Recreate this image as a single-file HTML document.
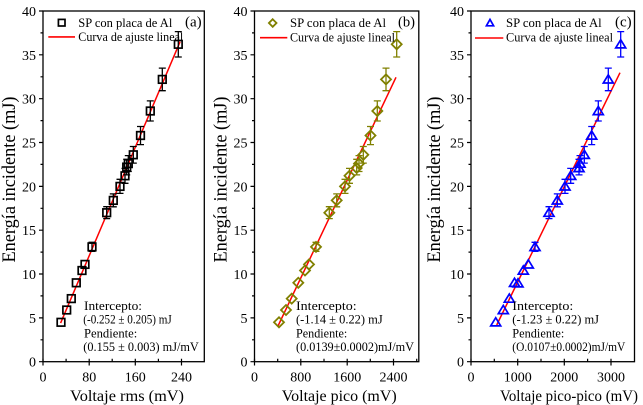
<!DOCTYPE html>
<html>
<head>
<meta charset="utf-8">
<style>
html,body{margin:0;padding:0;background:#fff;font-family:"Liberation Serif",serif;}
svg{display:block;font-family:"Liberation Serif",serif;}
svg text{font-family:"Liberation Serif",serif !important;fill:#000;}
.tk{font-size:14px;}
.ttl{font-size:16px;}
.yt{font-size:19px;}
.lg{font-size:12.5px;}
.an{font-size:12.8px;fill:#222;}
.pl{font-size:15px;}
</style>
</head>
<body>
<svg width="643" height="405" viewBox="0 0 643 405" xmlns="http://www.w3.org/2000/svg" font-family="Liberation Serif, serif">
<defs>
 <rect id="sq" x="-3.8" y="-3.8" width="7.6" height="7.6" fill="none" stroke="#000" stroke-width="1.7"/>
 <rect id="sqs" x="-3.3" y="-3.3" width="6.6" height="6.6" fill="none" stroke="#000" stroke-width="1.7"/>
 <path id="dm" d="M0 -5L5 0L0 5L-5 0Z" fill="none" stroke="#808000" stroke-width="1.8"/>
 <path id="dms" d="M0 -3.8L3.8 0L0 3.8L-3.8 0Z" fill="none" stroke="#808000" stroke-width="1.8"/>
 <path id="tr" d="M0 -4.6L5 3.6L-5 3.6Z" fill="none" stroke="#0000ff" stroke-width="1.7"/>
 <path id="trs" d="M0 -3.6L3.6 2.8L-3.6 2.8Z" fill="none" stroke="#0000ff" stroke-width="1.7"/>
</defs>

<!-- ================= PANEL A ================= -->
<rect x="43" y="11" width="161.3" height="350.7" fill="none" stroke="#000" stroke-width="1.3"/>
<path d="M39 361.7H43M39 317.9H43M39 274H43M39 230.2H43M39 186.4H43M39 142.5H43M39 98.7H43M39 54.8H43M39 11H43
M40.5 339.8H43M40.5 295.9H43M40.5 252.1H43M40.5 208.3H43M40.5 164.4H43M40.5 120.6H43M40.5 76.8H43M40.5 32.9H43
M43 358.7V365.5M89.2 358.7V365.5M135.3 358.7V365.5M181.5 358.7V365.5
M66.1 358.7V361.7M112.2 358.7V361.7M158.4 358.7V361.7" stroke="#000" stroke-width="1.2" fill="none"/>
<g class="tk" text-anchor="end" font-family="Liberation Serif, serif">
 <text x="36" y="366.7">0</text><text x="36" y="322.9">5</text><text x="36" y="279">10</text>
 <text x="36" y="235.2">15</text><text x="36" y="191.4">20</text><text x="36" y="147.5">25</text>
 <text x="36" y="103.7">30</text><text x="36" y="59.8">35</text><text x="36" y="16">40</text>
</g>
<g class="tk" text-anchor="middle" font-family="Liberation Serif, serif">
 <text x="43" y="381.5">0</text><text x="89.2" y="381.5">80</text><text x="135.3" y="381.5">160</text><text x="181.5" y="381.5">240</text>
</g>
<text class="ttl" font-family="Liberation Serif, serif" x="70" y="401" textLength="114" lengthAdjust="spacingAndGlyphs">Voltaje rms (mV)</text>
<text class="yt" font-family="Liberation Serif, serif" transform="translate(15,179.5) rotate(-90)" text-anchor="middle" textLength="166" lengthAdjust="spacingAndGlyphs">Energía incidente (mJ)</text>

<line x1="60.6" y1="323.1" x2="180.1" y2="41.7" stroke="#ff0000" stroke-width="1.5"/>
<path d="M92 242.3V251.4M88.5 242.3H95.5M88.5 251.4H95.5
M106.7 206.7V218.6M103.2 206.7H110.2M103.2 218.6H110.2
M113.3 193.9V206.8M109.8 193.9H116.8M109.8 206.8H116.8
M120 179.3V193.4M116.5 179.3H123.5M116.5 193.4H123.5
M125 168.4V183.3M121.5 168.4H128.5M121.5 183.3H128.5
M126.7 159.3V174.9M123.2 159.3H130.2M123.2 174.9H130.2
M128.3 155.6V171.5M124.8 155.6H131.8M124.8 171.5H131.8
M133.3 146.5V163.1M129.8 146.5H136.8M129.8 163.1H136.8
M140.5 126.5V144.6M137 126.5H144M137 144.6H144
M150.3 100.9V121M146.8 100.9H153.8M146.8 121H153.8
M162.3 68.1V90.7M158.8 68.1H165.8M158.8 90.7H165.8
M178.3 31.6V57M174.8 31.6H181.8M174.8 57H181.8" stroke="#000" stroke-width="1.3" fill="none"/>
<g>
 <use href="#sq" x="61" y="322.3"/><use href="#sq" x="66.7" y="310"/><use href="#sq" x="71.3" y="298.6"/>
 <use href="#sq" x="76.3" y="282.8"/><use href="#sq" x="82" y="270.5"/><use href="#sq" x="85" y="264.4"/>
 <use href="#sq" x="92" y="246.9"/><use href="#sq" x="106.7" y="212.7"/><use href="#sq" x="113.3" y="200.4"/>
 <use href="#sq" x="120" y="186.4"/><use href="#sq" x="125" y="175.8"/><use href="#sq" x="126.7" y="167.1"/>
 <use href="#sq" x="128.3" y="163.6"/><use href="#sq" x="133.3" y="154.8"/><use href="#sq" x="140.5" y="135.5"/>
 <use href="#sq" x="150.3" y="111"/><use href="#sq" x="162.3" y="79.4"/><use href="#sq" x="178.3" y="44.3"/>
</g>
<use href="#sqs" x="61.7" y="22.7"/>
<text class="lg" font-family="Liberation Serif, serif" x="78.3" y="27" textLength="94" lengthAdjust="spacingAndGlyphs">SP con placa de Al</text>
<line x1="48.3" y1="36.9" x2="75" y2="36.9" stroke="#ff0000" stroke-width="1.6"/>
<text class="lg" font-family="Liberation Serif, serif" x="78.3" y="41" textLength="105" lengthAdjust="spacingAndGlyphs">Curva de ajuste lineal</text>
<text class="pl" font-family="Liberation Serif, serif" x="185" y="26.5" textLength="16.7" lengthAdjust="spacingAndGlyphs">(a)</text>
<g class="an" font-family="Liberation Serif, serif">
 <text x="84" y="310" textLength="58" lengthAdjust="spacingAndGlyphs">Intercepto:</text>
 <text x="83.3" y="323.5" textLength="88.4" lengthAdjust="spacingAndGlyphs">(-0.252 ± 0.205) mJ</text>
 <text x="84" y="337.5" textLength="53.3" lengthAdjust="spacingAndGlyphs">Pendiente:</text>
 <text x="83.3" y="351" textLength="115.5" lengthAdjust="spacingAndGlyphs">(0.155 ± 0.003) mJ/mV</text>
</g>

<!-- ================= PANEL B ================= -->
<rect x="254.5" y="11" width="164.3" height="350.7" fill="none" stroke="#000" stroke-width="1.3"/>
<path d="M250.5 361.7H254.5M250.5 317.9H254.5M250.5 274H254.5M250.5 230.2H254.5M250.5 186.4H254.5M250.5 142.5H254.5M250.5 98.7H254.5M250.5 54.8H254.5M250.5 11H254.5
M252 339.8H254.5M252 295.9H254.5M252 252.1H254.5M252 208.3H254.5M252 164.4H254.5M252 120.6H254.5M252 76.8H254.5M252 32.9H254.5
M254.5 358.7V365.5M300.8 358.7V365.5M347.2 358.7V365.5M393.5 358.7V365.5
M277.7 358.7V361.7M324 358.7V361.7M370.3 358.7V361.7M416.7 358.7V361.7" stroke="#000" stroke-width="1.2" fill="none"/>
<g class="tk" text-anchor="end" font-family="Liberation Serif, serif">
 <text x="247.5" y="366.7">0</text><text x="247.5" y="322.9">5</text><text x="247.5" y="279">10</text>
 <text x="247.5" y="235.2">15</text><text x="247.5" y="191.4">20</text><text x="247.5" y="147.5">25</text>
 <text x="247.5" y="103.7">30</text><text x="247.5" y="59.8">35</text><text x="247.5" y="16">40</text>
</g>
<g class="tk" text-anchor="middle" font-family="Liberation Serif, serif">
 <text x="254.5" y="381.5">0</text><text x="300.8" y="381.5">800</text><text x="347.2" y="381.5">1600</text><text x="393.5" y="381.5">2400</text>
</g>
<text class="ttl" font-family="Liberation Serif, serif" x="281.7" y="401" textLength="115" lengthAdjust="spacingAndGlyphs">Voltaje pico (mV)</text>
<text class="yt" font-family="Liberation Serif, serif" transform="translate(226.6,179.5) rotate(-90)" text-anchor="middle" textLength="166" lengthAdjust="spacingAndGlyphs">Energía incidente (mJ)</text>

<line x1="278" y1="326" x2="396" y2="77.3" stroke="#ff0000" stroke-width="1.5"/>
<path d="M316 242.3V251.4M312.5 242.3H319.5M312.5 251.4H319.5
M329.3 206.7V218.6M325.8 206.7H332.8M325.8 218.6H332.8
M336.7 193.9V206.8M333.2 193.9H340.2M333.2 206.8H340.2
M345 179.3V193.4M341.5 179.3H348.5M341.5 193.4H348.5
M349.5 168.4V183.3M346 168.4H353M346 183.3H353
M356.7 159.3V174.9M353.2 159.3H360.2M353.2 174.9H360.2
M359 155.6V171.5M355.5 155.6H362.5M355.5 171.5H362.5
M363.3 146.5V163.1M359.8 146.5H366.8M359.8 163.1H366.8
M370.5 126.5V144.6M367 126.5H374M367 144.6H374
M377.3 100.9V121M373.8 100.9H380.8M373.8 121H380.8
M386 68.1V90.7M382.5 68.1H389.5M382.5 90.7H389.5
M396.7 31.6V57M393.2 31.6H400.2M393.2 57H400.2" stroke="#808000" stroke-width="1.3" fill="none"/>
<g>
 <use href="#dm" x="279" y="322.3"/><use href="#dm" x="286" y="310"/><use href="#dm" x="291.7" y="298.6"/>
 <use href="#dm" x="298.3" y="282.8"/><use href="#dm" x="305" y="270.5"/><use href="#dm" x="309" y="264.4"/>
 <use href="#dm" x="316" y="246.9"/><use href="#dm" x="329.3" y="212.7"/><use href="#dm" x="336.7" y="200.4"/>
 <use href="#dm" x="345" y="186.4"/><use href="#dm" x="349.5" y="175.8"/><use href="#dm" x="356.7" y="168"/>
 <use href="#dm" x="359" y="163.6"/><use href="#dm" x="363.3" y="154.8"/><use href="#dm" x="370.5" y="135.5"/>
 <use href="#dm" x="377.3" y="111"/><use href="#dm" x="386" y="79.4"/><use href="#dm" x="396.7" y="44.3"/>
</g>
<use href="#dms" x="272.7" y="23"/>
<text class="lg" font-family="Liberation Serif, serif" x="290" y="27" textLength="96" lengthAdjust="spacingAndGlyphs">SP con placa de Al</text>
<line x1="260" y1="37.7" x2="287.3" y2="37.7" stroke="#ff0000" stroke-width="1.6"/>
<text class="lg" font-family="Liberation Serif, serif" x="290" y="41.5" textLength="105" lengthAdjust="spacingAndGlyphs">Curva de ajuste lineal</text>
<text class="pl" font-family="Liberation Serif, serif" x="398" y="26.5" textLength="17" lengthAdjust="spacingAndGlyphs">(b)</text>
<g class="an" font-family="Liberation Serif, serif">
 <text x="296" y="310" textLength="60.7" lengthAdjust="spacingAndGlyphs">Intercepto:</text>
 <text x="296" y="323.5" textLength="86.7" lengthAdjust="spacingAndGlyphs">(-1.14 ± 0.22) mJ</text>
 <text x="296" y="337.5" textLength="51.3" lengthAdjust="spacingAndGlyphs">Pendiente:</text>
 <text x="296" y="351" textLength="118" lengthAdjust="spacingAndGlyphs">(0.0139±0.0002)mJ/mV</text>
</g>

<!-- ================= PANEL C ================= -->
<rect x="471" y="11" width="163.5" height="350.7" fill="none" stroke="#000" stroke-width="1.3"/>
<path d="M467 361.7H471M467 317.9H471M467 274H471M467 230.2H471M467 186.4H471M467 142.5H471M467 98.7H471M467 54.8H471M467 11H471
M468.5 339.8H471M468.5 295.9H471M468.5 252.1H471M468.5 208.3H471M468.5 164.4H471M468.5 120.6H471M468.5 76.8H471M468.5 32.9H471
M471 358.7V365.5M517.7 358.7V365.5M564.3 358.7V365.5M611 358.7V365.5
M494.3 358.7V361.7M541 358.7V361.7M587.6 358.7V361.7" stroke="#000" stroke-width="1.2" fill="none"/>
<g class="tk" text-anchor="end" font-family="Liberation Serif, serif">
 <text x="464" y="366.7">0</text><text x="464" y="322.9">5</text><text x="464" y="279">10</text>
 <text x="464" y="235.2">15</text><text x="464" y="191.4">20</text><text x="464" y="147.5">25</text>
 <text x="464" y="103.7">30</text><text x="464" y="59.8">35</text><text x="464" y="16">40</text>
</g>
<g class="tk" text-anchor="middle" font-family="Liberation Serif, serif">
 <text x="471" y="381.5">0</text><text x="517.7" y="381.5">1000</text><text x="564.3" y="381.5">2000</text><text x="611" y="381.5">3000</text>
</g>
<text class="ttl" font-family="Liberation Serif, serif" x="500" y="401" textLength="138" lengthAdjust="spacingAndGlyphs">Voltaje pico-pico (mV)</text>
<text class="yt" font-family="Liberation Serif, serif" transform="translate(440,179.5) rotate(-90)" text-anchor="middle" textLength="166" lengthAdjust="spacingAndGlyphs">Energía incidente (mJ)</text>

<line x1="496.7" y1="325" x2="620" y2="72.7" stroke="#ff0000" stroke-width="1.5"/>
<path d="M535 242.3V251.4M531.5 242.3H538.5M531.5 251.4H538.5
M549 206.7V218.6M545.5 206.7H552.5M545.5 218.6H552.5
M557.3 193.9V206.8M553.8 193.9H560.8M553.8 206.8H560.8
M565 179.3V193.4M561.5 179.3H568.5M561.5 193.4H568.5
M570.7 168.4V183.3M567.2 168.4H574.2M567.2 183.3H574.2
M579 159.3V174.9M575.5 159.3H582.5M575.5 174.9H582.5
M580 155.6V171.5M576.5 155.6H583.5M576.5 171.5H583.5
M584.3 146.5V163.1M580.8 146.5H587.8M580.8 163.1H587.8
M591.7 126.5V144.6M588.2 126.5H595.2M588.2 144.6H595.2
M598.3 100.9V121M594.8 100.9H601.8M594.8 121H601.8
M608.3 68.1V90.7M604.8 68.1H611.8M604.8 90.7H611.8
M620.7 31.6V57M617.2 31.6H624.2M617.2 57H624.2" stroke="#0000ff" stroke-width="1.3" fill="none"/>
<g>
 <use href="#tr" x="495.7" y="322.3"/><use href="#tr" x="503.3" y="310"/><use href="#tr" x="509.3" y="298.6"/>
 <use href="#tr" x="514.5" y="282.8"/><use href="#tr" x="518" y="283.3"/><use href="#tr" x="523.3" y="270.5"/>
 <use href="#tr" x="528.3" y="264.4"/><use href="#tr" x="535" y="246.9"/><use href="#tr" x="549" y="212.7"/>
 <use href="#tr" x="557.3" y="200.4"/><use href="#tr" x="565" y="186.4"/><use href="#tr" x="570.7" y="175.8"/>
 <use href="#tr" x="579" y="168"/><use href="#tr" x="580" y="163.6"/><use href="#tr" x="584.3" y="154.8"/>
 <use href="#tr" x="591.7" y="135.5"/><use href="#tr" x="598.3" y="111"/><use href="#tr" x="608.3" y="79.4"/>
 <use href="#tr" x="620.7" y="44.3"/>
</g>
<use href="#trs" x="490" y="23"/>
<text class="lg" font-family="Liberation Serif, serif" x="506" y="27" textLength="95.7" lengthAdjust="spacingAndGlyphs">SP con placa de Al</text>
<line x1="475" y1="38" x2="503.3" y2="38" stroke="#ff0000" stroke-width="1.6"/>
<text class="lg" font-family="Liberation Serif, serif" x="506" y="41.5" textLength="107" lengthAdjust="spacingAndGlyphs">Curva de ajuste lineal</text>
<text class="pl" font-family="Liberation Serif, serif" x="615" y="26.5" textLength="16.7" lengthAdjust="spacingAndGlyphs">(c)</text>
<g class="an" font-family="Liberation Serif, serif">
 <text x="512.3" y="310" textLength="61" lengthAdjust="spacingAndGlyphs">Intercepto:</text>
 <text x="512.3" y="323.5" textLength="86.7" lengthAdjust="spacingAndGlyphs">(-1.23 ± 0.22) mJ</text>
 <text x="512.3" y="337.5" textLength="52" lengthAdjust="spacingAndGlyphs">Pendiente:</text>
 <text x="512.3" y="351" textLength="113" lengthAdjust="spacingAndGlyphs">(O.0107±0.0002)mJ/mV</text>
</g>
</svg>
</body>
</html>
